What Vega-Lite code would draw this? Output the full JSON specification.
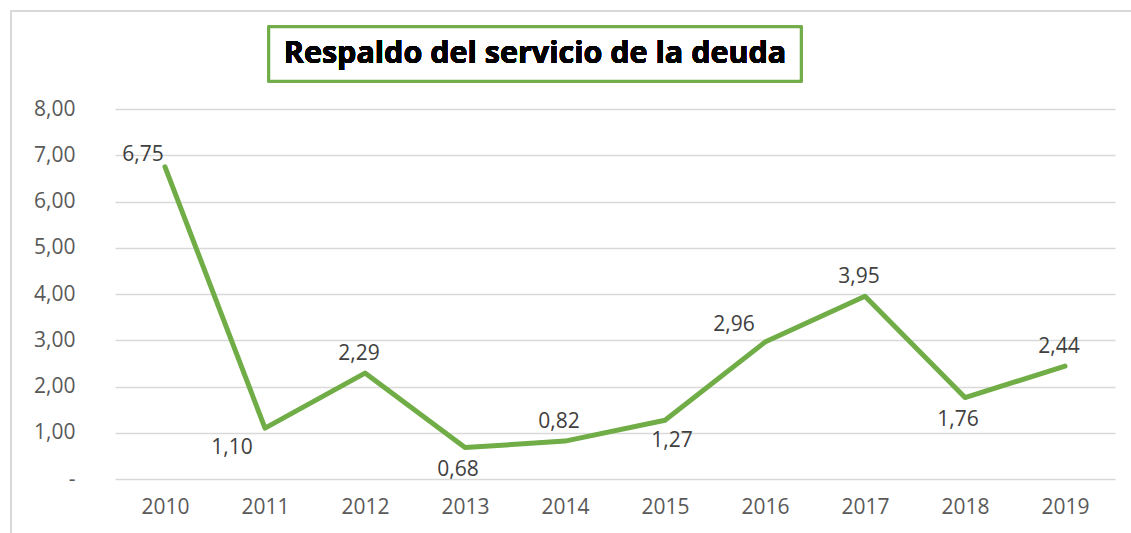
{
  "$schema": "https://vega.github.io/schema/vega-lite/v6.json",
  "width": 1000,
  "height": 370,
  "autosize": {"type": "none"},
  "padding": {"left": 115, "top": 109, "right": 16, "bottom": 54},
  "background": "white",
  "config": {
    "view": {"stroke": null},
    "locale": {"number": {"decimal": ",", "thousands": ".", "grouping": [3], "currency": ["", ""]}},
    "font": "Open Sans",
    "axis": {"title": null}
  },
  "data": {"values": [
    {"year": 2010, "value": 6.75},
    {"year": 2011, "value": 1.10},
    {"year": 2012, "value": 2.29},
    {"year": 2013, "value": 0.68},
    {"year": 2014, "value": 0.82},
    {"year": 2015, "value": 1.27},
    {"year": 2016, "value": 2.96},
    {"year": 2017, "value": 3.95},
    {"year": 2018, "value": 1.76},
    {"year": 2019, "value": 2.44}
  ]},
  "layer": [
    {
      "mark": {"type": "line", "color": "#70AD47", "strokeWidth": 5, "strokeJoin": "round", "strokeCap": "round"},
      "encoding": {
        "x": {"field": "year", "type": "quantitative", "scale": {"domain": [2009.5, 2019.5], "nice": false, "zero": false},
          "axis": {"title": null, "values": [2010, 2011, 2012, 2013, 2014, 2015, 2016, 2017, 2018, 2019], "format": "d", "grid": false, "domain": false, "ticks": false, "labelFontSize": 21, "labelColor": "#595959", "labelPadding": 17, "labelFont": "Open Sans"}},
        "y": {"field": "value", "type": "quantitative", "scale": {"domain": [0, 8], "nice": false},
          "axis": {"title": null, "values": [0, 1, 2, 3, 4, 5, 6, 7, 8], "format": ".2f", "labelExpr": "datum.value === 0 ? '-\u00a0\u00a0' : datum.label", "grid": true, "gridColor": "#d9d9d9", "gridWidth": 1.5, "domain": false, "ticks": false, "labelFontSize": 21, "labelColor": "#595959", "labelPadding": 40, "labelFont": "Open Sans"}}
      }
    },
    {
      "mark": {"type": "rect", "fill": null, "stroke": "#d9d9d9", "strokeWidth": 1.5},
      "encoding": {
        "x": {"datum": 2008.46, "type": "quantitative"},
        "x2": {"datum": 2019.8},
        "y": {"datum": 10.12, "type": "quantitative"},
        "y2": {"datum": -1.4}
      }
    },
    {
      "transform": [{"filter": {"field": "year", "oneOf": [2012, 2014, 2017, 2019]}}],
      "mark": {"type": "text", "fontSize": 21, "color": "#404040", "dx": -6, "dy": -19, "baseline": "middle"},
      "encoding": {
        "x": {"field": "year", "type": "quantitative"},
        "y": {"field": "value", "type": "quantitative"},
        "text": {"field": "value", "type": "quantitative", "format": ".2f"}
      }
    },
    {
      "transform": [{"filter": {"field": "year", "oneOf": [2010]}}],
      "mark": {"type": "text", "fontSize": 21, "color": "#404040", "dx": -22, "dy": -12, "baseline": "middle"},
      "encoding": {
        "x": {"field": "year", "type": "quantitative"},
        "y": {"field": "value", "type": "quantitative"},
        "text": {"field": "value", "type": "quantitative", "format": ".2f"}
      }
    },
    {
      "transform": [{"filter": {"field": "year", "oneOf": [2016]}}],
      "mark": {"type": "text", "fontSize": 21, "color": "#404040", "dx": -31, "dy": -17, "baseline": "middle"},
      "encoding": {
        "x": {"field": "year", "type": "quantitative"},
        "y": {"field": "value", "type": "quantitative"},
        "text": {"field": "value", "type": "quantitative", "format": ".2f"}
      }
    },
    {
      "transform": [{"filter": {"field": "year", "oneOf": [2013, 2018]}}],
      "mark": {"type": "text", "fontSize": 21, "color": "#404040", "dx": -7, "dy": 22, "baseline": "middle"},
      "encoding": {
        "x": {"field": "year", "type": "quantitative"},
        "y": {"field": "value", "type": "quantitative"},
        "text": {"field": "value", "type": "quantitative", "format": ".2f"}
      }
    },
    {
      "transform": [{"filter": {"field": "year", "oneOf": [2011]}}],
      "mark": {"type": "text", "fontSize": 21, "color": "#404040", "dx": -33, "dy": 20, "baseline": "middle"},
      "encoding": {
        "x": {"field": "year", "type": "quantitative"},
        "y": {"field": "value", "type": "quantitative"},
        "text": {"field": "value", "type": "quantitative", "format": ".2f"}
      }
    },
    {
      "transform": [{"filter": {"field": "year", "oneOf": [2015]}}],
      "mark": {"type": "text", "fontSize": 21, "color": "#404040", "dx": 7, "dy": 21, "baseline": "middle"},
      "encoding": {
        "x": {"field": "year", "type": "quantitative"},
        "y": {"field": "value", "type": "quantitative"},
        "text": {"field": "value", "type": "quantitative", "format": ".2f"}
      }
    },
    {
      "mark": {"type": "rect", "fill": "white", "stroke": "#70AD47", "strokeWidth": 2.5},
      "encoding": {
        "x": {"datum": 2011.04, "type": "quantitative"},
        "x2": {"datum": 2016.36},
        "y": {"datum": 9.773, "type": "quantitative"},
        "y2": {"datum": 8.605}
      }
    },
    {
      "mark": {"type": "text", "text": "Respaldo del servicio de la deuda", "fontSize": 30.5, "fontWeight": "bold", "color": "black", "align": "center", "baseline": "alphabetic", "font": "Open Sans"},
      "encoding": {
        "x": {"datum": 2013.70, "type": "quantitative"},
        "y": {"datum": 9.0, "type": "quantitative"}
      }
    }
  ]
}
